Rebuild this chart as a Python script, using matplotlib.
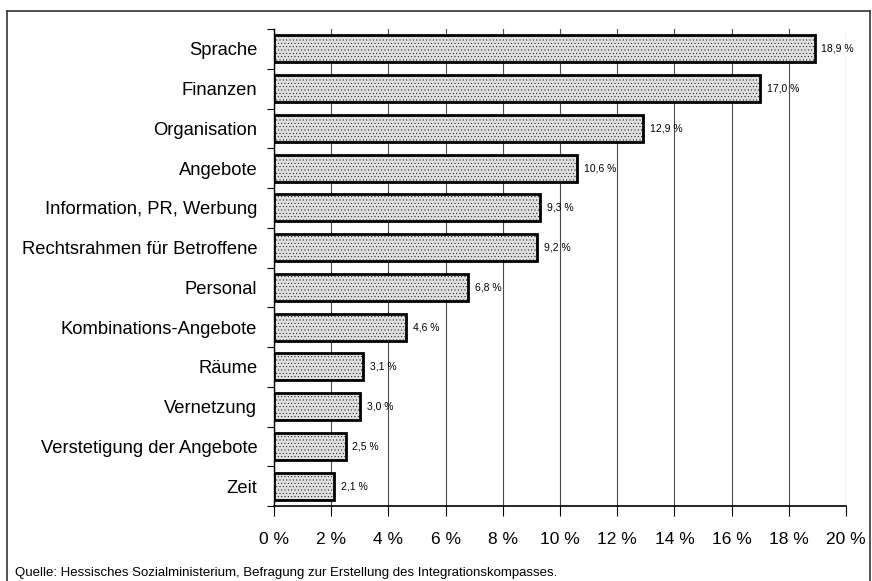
import matplotlib
matplotlib.use("Agg")
import matplotlib.pyplot as plt
from matplotlib.lines import Line2D

categories = ["Sprache", "Finanzen", "Organisation", "Angebote",
              "Information, PR, Werbung", "Rechtsrahmen für Betroffene",
              "Personal", "Kombinations-Angebote", "Räume", "Vernetzung",
              "Verstetigung der Angebote", "Zeit"]
values = [18.9, 17.0, 12.9, 10.6, 9.3, 9.2, 6.8, 4.6, 3.1, 3.0, 2.5, 2.1]
value_labels = ["18,9 %", "17,0 %", "12,9 %", "10,6 %", "9,3 %", "9,2 %",
                "6,8 %", "4,6 %", "3,1 %", "3,0 %", "2,5 %", "2,1 %"]
xticks = [0, 2, 4, 6, 8, 10, 12, 14, 16, 18, 20]
xtick_labels = ["0 %", "2 %", "4 %", "6 %", "8 %", "10 %", "12 %", "14 %",
                "16 %", "18 %", "20 %"]
source = "Quelle: Hessisches Sozialministerium, Befragung zur Erstellung des Integrationskompasses."

plt.rcParams["font.family"] = ["Liberation Sans", "DejaVu Sans"]
plt.rcParams["hatch.color"] = "#cdcdcd"
plt.rcParams["hatch.linewidth"] = 0.3

W, H = 872, 581
fig = plt.figure(figsize=(W / 100, H / 100), dpi=100)
ax = fig.add_axes([274 / W, 1 - 506 / H, (846 - 274) / W, (506 - 29) / H])

n = len(categories)
ypos = list(range(n))
ax.barh(ypos, values, height=0.68, color="#e0e0e0", edgecolor="black",
        linewidth=2.0, hatch=".....", zorder=3)
ax.set_ylim(n - 0.5, -0.5)
ax.set_xlim(0, 20)

for y, v, lab in zip(ypos, values, value_labels):
    ax.annotate(lab, (v, y), xytext=(5, 0), textcoords="offset points",
                va="center", ha="left", fontsize=7.5, zorder=4)

ax.set_xticks(xticks)
ax.set_xticklabels(xtick_labels, fontsize=12.5)
ax.set_yticks(ypos)
ax.set_yticklabels(categories, fontsize=13.2)
ax.tick_params(axis="y", which="major", length=0, pad=12)
ax.set_yticks([i - 0.5 for i in range(n + 1)], minor=True)
ax.tick_params(axis="y", which="minor", length=5, width=0.8, direction="out")
ax.tick_params(axis="x", length=7, width=0.8, direction="out", pad=12)

ax.xaxis.grid(True, color="#4a4a4a", linewidth=0.8, zorder=0)
ax.set_axisbelow(True)
for s in ["top", "right"]:
    ax.spines[s].set_visible(False)
ax.spines["left"].set_linewidth(1.0)
ax.spines["bottom"].set_linewidth(1.2)

# outer frame (top, left, right)
fig.add_artist(Line2D([7 / W, 7 / W], [0, 1 - 11 / H], color="#333333", lw=1.2, transform=fig.transFigure))
fig.add_artist(Line2D([7 / W, 870 / W], [1 - 11 / H, 1 - 11 / H], color="#333333", lw=1.2, transform=fig.transFigure))
fig.add_artist(Line2D([870 / W, 870 / W], [0, 1 - 11 / H], color="#333333", lw=1.2, transform=fig.transFigure))

fig.text(15 / W, 1 - 573 / H, source, fontsize=9.5, va="center", ha="left")

fig.savefig("out.png", dpi=100)
